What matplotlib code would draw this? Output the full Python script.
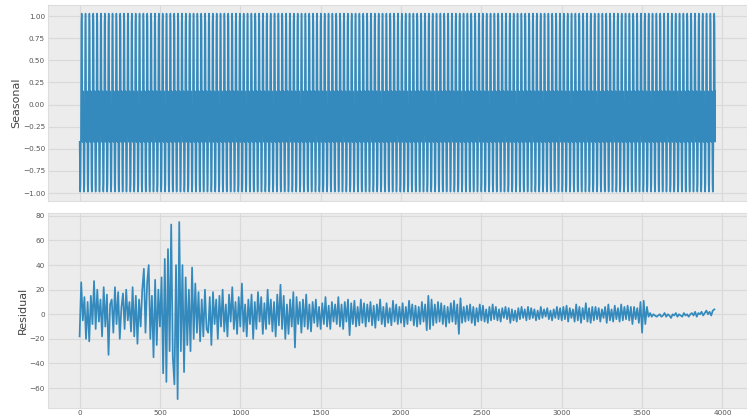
import numpy as np
import matplotlib.pyplot as plt
from matplotlib import font_manager

plt.style.use('bmh')

# one day of the seasonal component (24 hourly values), repeated over the series
seasonal_day = [-0.42, -0.65, -0.90, -0.97, -0.985, -0.95, -0.90, -0.65,
                -0.42, 0.15, 0.45, 0.93, 1.00, 1.03, 0.98, 0.93,
                0.45, 0.15, -0.42, 0.15, -0.42, 0.10, -0.30, 0.15]
n_obs = 3956

# residual, sampled every 10 observations
resid_step = 10
residual = [
    -18, 26, -5, 14, -20, 10, -22, 15, -8, 27, -12, 20, -6, 12, -18, 22, -10, 16, -33, 8,
    12, -15, 22, -8, 18, -20, 5, 17, -12, 20, -5, 10, -14, 22, -18, 15, -24, 12, -10, 20,
    37, -15, 25, 40, -20, 15, -35, 28, -25, 20, -10, 30, -48, 45, -55, 53, -30, 73, -35, -57,
    40, -69, 75, -30, 40, -47, 30, -25, 20, -30, 38, -20, 25, -15, 18, -22, 12, -18, 20, -12,
    -15, 14, -25, 18, -8, 12, -20, 15, -10, 20, -14, 8, -18, 16, -6, 22, -12, 10, -16, 14,
    -10, 25, -14, 8, -18, 12, -8, 16, -20, 10, -12, 18, -6, 14, -16, 9, -12, 20, -8, 12,
    -14, 10, -18, 16, -9, 24, -12, 15, -20, 8, -16, 12, -10, 18, -27, 14, -8, 10, -15, 12,
    -10, 16, -12, 8, -14, 10, -7, 12, -10, 6, -12, 9, -8, 14, -10, 7, -12, 10, -6, 8,
    -8, 14, -10, 8, -12, 10, -6, 12, -17, 9, -8, 11, -10, 6, -9, 12, -7, 9, -10, 8,
    -6, 10, -9, 7, -11, 8, -5, 12, -8, 6, -10, 9, -7, 5, -9, 11, -6, 8, -8, 6,
    -7, 9, -10, 6, -8, 11, -5, 8, -9, 7, -10, 6, -8, 10, -6, 8, -13, 15, -12, 12,
    -9, 8, -7, 10, -6, 9, -8, 7, -10, 6, -7, 9, -6, 11, -8, 8, -16, 13, -7, 6,
    -6, 7, -5, 8, -7, 6, -9, 5, -6, 8, -5, 7, -6, 4, -7, 6, -5, 8, -4, 6,
    -5, 4, -6, 5, -3, 6, -4, 5, -7, 4, -5, 3, -6, 5, -4, 6, -3, 4, -5, 6,
    -4, 5, -3, 4, -5, 3, -4, 6, -3, 4, -2, 5, -4, 3, -5, 4, -3, 6, -4, 5,
    -5, 6, -4, 7, -6, 5, -3, 4, -6, 8, -5, 6, -7, 5, -4, 9, -6, 5, -7, 6,
    -5, 6, -4, 5, -6, 4, -3, 6, -7, 8, -5, 4, -6, 7, -4, 5, -6, 8, -5, 6,
    -4, 7, -5, 6, -8, 6, -4, 5, -7, 10, -15, 11, -8, 6, -2, 1, -2, 0, -1, -2,
    -1, 0, -2, -1, 1, -2, 0, -1, -3, 0, -1, 1, -2, 0, -1, -2, 1, -1, 0, -2,
    0, 1, -1, 2, -2, 1, 0, 2, -1, 1, 3, 0, 2, -1, 3, 4,
]

seasonal = np.resize(seasonal_day, n_obs)
t_seas = np.arange(n_obs)
t_resid = np.arange(len(residual)) * resid_step

installed = {f.name for f in font_manager.fontManager.ttflist}
tick_font = 'Liberation Sans Narrow' if 'Liberation Sans Narrow' in installed else 'DejaVu Sans'

fig = plt.figure(figsize=(7.47, 4.18), dpi=100, facecolor='white')
ax1 = fig.add_axes([0.064, 0.520, 0.936, 0.469])
ax2 = fig.add_axes([0.064, 0.024, 0.936, 0.466], sharex=ax1)

blue = '#348ABD'
ax1.plot(t_seas, seasonal, color=blue, lw=1.1)
ax2.plot(t_resid, residual, color=blue, lw=1.25)

ax1.set_ylabel('Seasonal', fontsize=8, color='#444444', labelpad=1)
ax2.set_ylabel('Residual', fontsize=8, color='#444444', labelpad=1)
ax1.set_yticks(np.arange(-1.0, 1.01, 0.25))
ax2.set_yticks(np.arange(-60, 81, 20))
ax2.set_xticks(np.arange(0, 4001, 500))
plt.setp(ax1.get_xticklabels(), visible=False)

for ax in (ax1, ax2):
    ax.set_facecolor('#ececec')
    ax.grid(True, color='#d9d9d9', linestyle='-', linewidth=0.8)
    ax.set_axisbelow(True)
    for s in ax.spines.values():
        s.set_color('#dddddd')
        s.set_linewidth(0.8)
    ax.tick_params(length=0, pad=2, labelsize=5.2, labelcolor='#555555')
    for lab in ax.get_xticklabels() + ax.get_yticklabels():
        lab.set_family(tick_font)
ax2.tick_params(axis='x', pad=1.5)

fig.savefig('out.png', dpi=100, facecolor='white')
